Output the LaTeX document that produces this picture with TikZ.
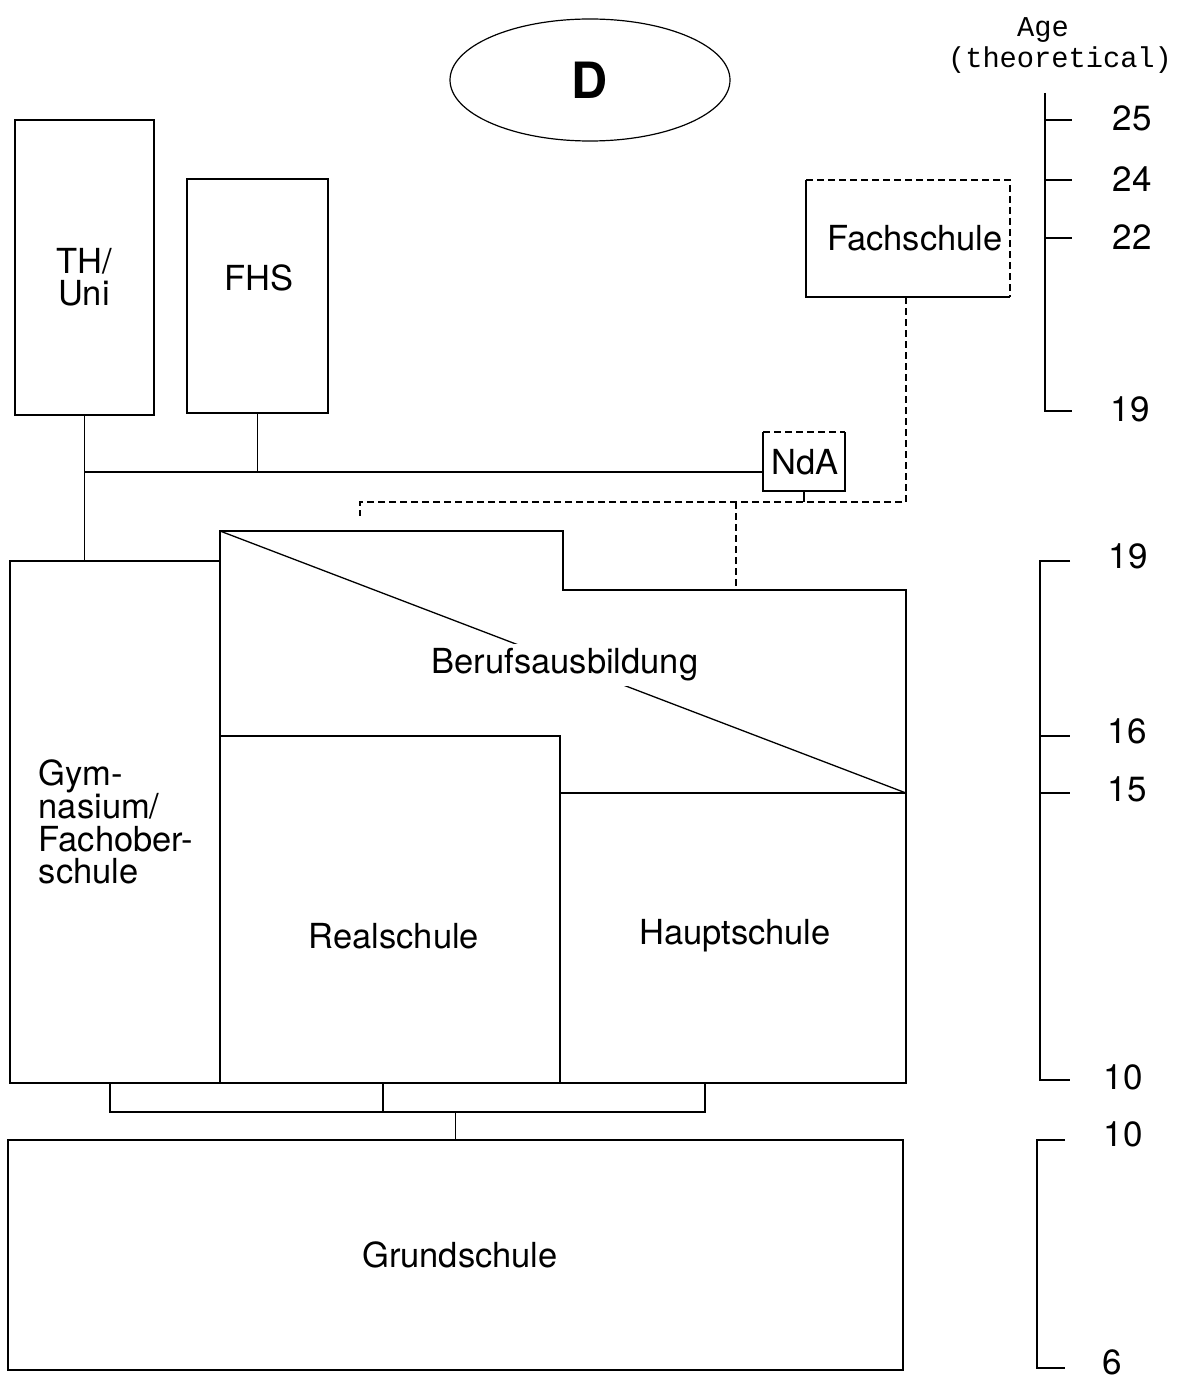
\documentclass[tikz,border=0pt]{standalone}
\usepackage{fontspec}
\setmainfont{TeX Gyre Heros}
\setmonofont{Liberation Mono}
\usetikzlibrary{shapes.geometric}
\begin{document}
\begin{tikzpicture}[x=1pt,y=-1pt,
  ln/.style={line width=1.3pt},
  dsh/.style={line width=1.3pt, dash pattern=on 7pt off 4pt},
  box/.style={draw, line width=1.3pt, inner sep=0pt, outer sep=0pt},
  lab/.style={font=\fontsize{34.5}{32.5}\selectfont, align=center, inner sep=0pt},
  num/.style={font=\fontsize{35}{35}\selectfont, inner sep=0pt}]
\useasboundingbox[fill=white] (0,0) rectangle (1178,1380);

% title ellipse
\node[draw, ellipse, line width=1.2pt, minimum width=280pt, minimum height=122pt, inner sep=0pt]
  (title) at (590,80) {\fontsize{50}{50}\selectfont\bfseries D};

% upper boxes
\node[box, minimum width=139pt, minimum height=295pt] (thuni) at (84.5,267.5) {};
\node[lab] (thunil) at (84,277) {TH/\\Uni};
\node[box, minimum width=141pt, minimum height=234pt] (fhs) at (257.5,296) {};
\node[lab] (fhsl) at (259,278) {FHS};
\node[inner sep=0pt, outer sep=0pt, minimum width=204pt, minimum height=117pt] (fach) at (908,238.5) {};
\draw[ln] (fach.north west) -- (fach.south west) -- (fach.south east);
\draw[dsh] (fach.north west) -- (fach.north east) -- (fach.south east);
\node[lab] (fachl) at (915,238) {Fachschule};
\node[inner sep=0pt, outer sep=0pt, minimum width=82pt, minimum height=59pt] (nda) at (804,461.5) {};
\draw[ln] (nda.north west) -- (nda.south west) -- (nda.south east) -- (nda.north east);
\draw[dsh] (nda.north west) -- (nda.north east);
\node[lab] (ndal) at (805,462) {NdA};

% lower boxes
\node[box, minimum width=210pt, minimum height=522pt] (gym) at (115,822) {};
\node[lab, align=left] (gyml) at (116,822) {Gym-\\nasium/\\Fachober-\\schule};
\node[box, minimum width=340pt, minimum height=347pt] (real) at (390,909.5) {};
\node[lab] (reall) at (394,936) {Realschule};
\node[box, minimum width=346pt, minimum height=290pt] (haupt) at (733,938) {};
\node[lab] (hauptl) at (735,936) {Hauptschule};
\node[box, minimum width=895pt, minimum height=230pt] (grund) at (455.5,1255) {};
\node[lab] (grundl) at (460,1255) {Grundschule};

% Berufsausbildung outline
\coordinate (ba1) at (220,531);
\coordinate (ba2) at (563,531);
\coordinate (ba3) at (563,590);
\coordinate (ba4) at (906,590);
\draw[ln] (gym.north east) -- (ba1) -- (ba2) -- (ba3) -- (ba4) -- (haupt.north east);
\draw[ln] (ba1) -- (haupt.north east);
\node[lab, fill=white, inner sep=5pt] (berufl) at (565,665) {Berufsausbildung};

% upper connectors
\coordinate (hl) at (84.5,472);
\draw[ln] (thuni.south) -- (thuni.south |- gym.north);
\draw[ln] (hl) -- (hl -| nda.west);
\draw[ln] (fhs.south) -- (fhs.south |- hl);
\coordinate (dl) at (906,502);
\coordinate (dle) at (360,502);
\coordinate (bj) at (736,502);
\draw[dsh] (fach.south -| dl) -- (dl) -- (dle) -- ++(0,14);
\draw[ln] (nda.south) -- (nda.south |- dl);
\draw[dsh] (bj) -- (bj |- ba3);

% lower connectors
\coordinate (b1) at (110,1112);
\coordinate (b2) at (705,1112);
\coordinate (b3) at (383,1112);
\draw[ln] (b1 |- gym.south) -- (b1) -- (b2) -- (b2 |- haupt.south);
\draw[ln] (b3 |- real.south) -- (b3);
\draw[ln] (grund.north |- b1) -- (grund.north);

% age header
\node[font=\ttfamily\fontsize{28.7}{30}\selectfont, inner sep=0pt] (age1) at (1043,30) {Age};
\node[font=\ttfamily\fontsize{28.7}{30}\selectfont, inner sep=0pt] (age2) at (1060,60) {(theoretical)};

% scale 1
\draw[ln] (1045,93) -- (1045,411) -- (1072,411);
\draw[ln] (1045,120) -- (1072,120);
\draw[ln] (1045,180) -- (1072,180);
\draw[ln] (1045,238) -- (1072,238);
\node[num] (a25) at (1132,118) {25};
\node[num] (a24) at (1132,179) {24};
\node[num] (a22) at (1132,237) {22};
\node[num] (a19a) at (1130,409) {19};

% scale 2
\draw[ln] (1070,561) -- (1040,561) -- (1040,1080) -- (1070,1080);
\draw[ln] (1040,736) -- (1070,736);
\draw[ln] (1040,793) -- (1070,793);
\node[num] (a19b) at (1128,556) {19};
\node[num] (a16) at (1127,731) {16};
\node[num] (a15) at (1127,789) {15};
\node[num] (a10a) at (1123,1077) {10};

% scale 3
\draw[ln] (1065,1140) -- (1037,1140) -- (1037,1368) -- (1065,1368);
\node[num] (a10b) at (1123,1134) {10};
\node[num] (a6) at (1112,1362) {6};
\end{tikzpicture}
\end{document}
